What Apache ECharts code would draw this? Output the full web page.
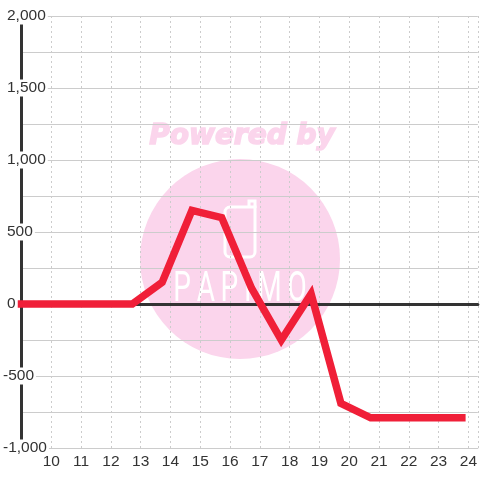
<!DOCTYPE html>
<html><head><meta charset="utf-8">
<style>html,body{margin:0;padding:0;background:#fff}#c{width:480px;height:480px}</style>
<script src="https://cdn.jsdelivr.net/npm/echarts@6/dist/echarts.min.js"></script>
</head><body><div id="c"></div>
<script>
const hours = [9, 9.72, 10.72, 11.72, 12.72, 13.72, 14.72, 15.72, 16.72, 17.72, 18.72, 19.72, 20.72, 21.72, 22.72, 23.78];
const values = [0, 0, 0, 0, 0, 150, 650, 600, 110, -250, 70, -690, -790, -790, -790, -790];
const yMin = -1000, yMax = 2000, yStep = 500;
const xTicks = [10,11,12,13,14,15,16,17,18,19,20,21,22,23,24];
const watermarkTitle = 'Powered by';
const watermarkLogo = 'P\u2009A\u2009P\u2009I\u2009M\u2009O';
const pink = '#fbd5ec', grey = '#cccccc', dark = '#333333';

const chart = echarts.init(document.getElementById('c'), null, {renderer:'canvas'});
const xFmt = v => xTicks.includes(v) ? String(v) : '';
const yLabelBase = {color:dark,fontFamily:'Liberation Sans',fontSize:15.5,align:'left',backgroundColor:'#fff',padding:[5,2,0,0],lineHeight:12};
chart.setOption({
  animation:false,
  backgroundColor:'#ffffff',
  grid:{left:20.5,right:0,top:16,bottom:32,containLabel:false},
  graphic:{elements:[
    {type:'circle',z:-10,silent:true,shape:{cx:240,cy:259,r:100},style:{fill:pink}},
    {type:'text',z:-10,silent:true,x:242,y:137,style:{text:watermarkTitle,fill:pink,stroke:pink,lineWidth:1.5,align:'center',verticalAlign:'middle',font:'italic bold 28px "DejaVu Sans"'}},
    {type:'rect',z:-10,silent:true,shape:{x:225,y:207,width:30,height:50,r:[5,0,5,5]},style:{fill:'none',stroke:'#fff',lineWidth:3}},
    {type:'polyline',z:-10,silent:true,shape:{points:[[249,207],[249,201],[255,201],[255,208]]},style:{fill:'none',stroke:'#fff',lineWidth:3}},
    {type:'text',z:-10,silent:true,x:240,y:290,scaleY:1.5,style:{text:watermarkLogo,fill:'#fff',align:'center',verticalAlign:'middle',font:'400 28px Roboto'}}
  ]},
  xAxis:[
    {type:'value',min:9,max:24.317,interval:1,position:'bottom',
     axisLine:{onZero:false,show:true,lineStyle:{color:grey,width:1}},axisTick:{show:false},
     axisLabel:{color:dark,fontFamily:'Liberation Sans',fontSize:15.5,margin:6,formatter:xFmt,showMinLabel:false,showMaxLabel:false},
     splitLine:{show:true,lineStyle:{color:grey,type:[2,3],width:1}}},
    {type:'value',min:9,max:24.317,interval:1,position:'top',
     axisLine:{onZero:true,show:true,lineStyle:{color:dark,width:3}},axisTick:{show:false},axisLabel:{show:false},splitLine:{show:false}}
  ],
  yAxis:[
    {type:'value',min:yMin,max:yMax,interval:yStep,
     axisLine:{show:true,onZero:false,lineStyle:{color:dark,width:3}},axisTick:{show:false},
     axisLabel:Object.assign({},yLabelBase,{margin:14.5,formatter:v=>v>=0?v.toLocaleString('en-US'):''}),
     splitLine:{show:true,lineStyle:{color:grey,width:1}},
     minorTick:{show:false,splitNumber:2},
     minorSplitLine:{show:true,lineStyle:{color:grey,width:1}}},
    {type:'value',min:yMin,max:yMax,interval:yStep,position:'left',
     axisLine:{show:false,onZero:false},axisTick:{show:false},splitLine:{show:false},
     axisLabel:Object.assign({},yLabelBase,{margin:18.5,formatter:v=>v<0?v.toLocaleString('en-US'):''})}
  ],
  series:[{type:'line',xAxisIndex:0,yAxisIndex:0,data:hours.map((h,i)=>[h,values[i]]),showSymbol:false,symbol:'none',
     clip:false,lineStyle:{color:'#f01f38',width:7.5,cap:'square',join:'miter',miterLimit:10}}]
});
</script></body></html>
